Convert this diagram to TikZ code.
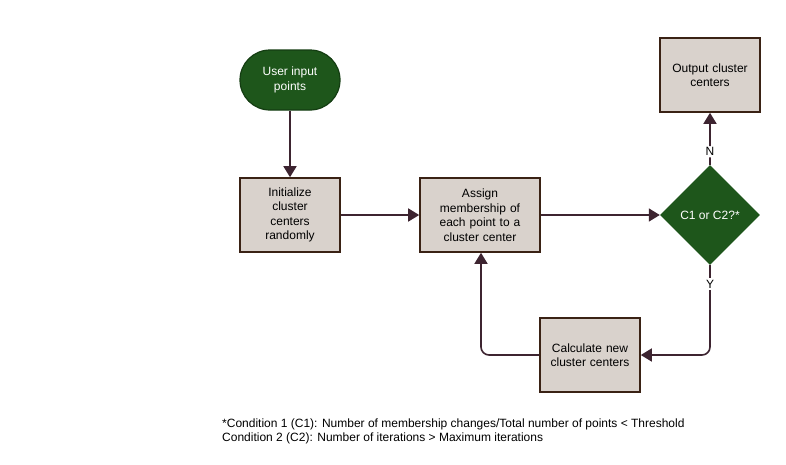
\documentclass[tikz,border=0pt]{standalone}
\usepackage{fontspec}
\setmainfont{Liberation Sans}
\usetikzlibrary{shapes.geometric,arrows.meta,positioning}
\definecolor{boxfill}{HTML}{D9D2CC}
\definecolor{boxline}{HTML}{3A2214}
\definecolor{gfill}{HTML}{1E561B}
\definecolor{gline}{HTML}{143D12}
\definecolor{arrowc}{HTML}{3D2430}
\tikzset{
  procbox/.style={draw=boxline,fill=boxfill,line width=1.6pt,minimum width=100pt,minimum height=74pt,align=center,font=\fontsize{12}{14.5}\selectfont,text width=96pt,inner sep=2pt},
  term/.style={draw=gline,fill=gfill,line width=1.2pt,rounded corners=30pt,minimum width=100pt,minimum height=60pt,align=center,text=white,font=\fontsize{12}{14.5}\selectfont},
  decide/.style={draw=none,fill=gfill,diamond,minimum width=100pt,minimum height=100pt,inner sep=0pt,aspect=1,text=white,font=\fontsize{12}{14.5}\selectfont},
  conn/.style={draw=arrowc,line width=1.6pt,-{Triangle[length=11pt,width=13pt]},rounded corners=8pt},
  lbl/.style={fill=white,inner sep=1.5pt,font=\fontsize{12}{13}\selectfont,text=black},
  note/.style={anchor=west,font=\fontsize{12}{14}\selectfont,inner sep=0pt}
}
\begin{document}
\begin{tikzpicture}[x=1pt,y=-1pt]
\useasboundingbox (0,0) rectangle (786,464);
\fill[white] (0,0) rectangle (786,464);
\node[term] (start) at (290,80) {User input\\points};
\node[procbox] (init) at (290,215) {Initialize\\cluster\\centers\\randomly};
\node[procbox,minimum width=120pt,text width=114pt] (assign) at (480,215) {Assign\\membership of\\each point to a\\cluster center};
\node[decide] (dec) at (710,215) {C1 or C2?*};
\node[procbox] (out) at (710,75) {Output cluster\\centers};
\node[procbox] (calc) at (590,355) {Calculate new\\cluster centers};
\draw[conn] (start) -- (init);
\draw[conn] (init) -- (assign);
\draw[conn] (assign) -- (dec);
\draw[conn] (dec) -- node[lbl,pos=0.25] (nl) {N} (out);
\draw[conn] (dec.south) -- (710,355) -- (calc.east);
\node[lbl] (yl) at (710,284) {Y};
\draw[conn] (calc.west) -- (481,355) -- (assign.south -| 481,0);
\node[note] (n1) at (222,424) {*Condition 1 (C1): Number of membership changes/Total number of points < Threshold};
\node[note] (n2) at (222,438) {Condition 2 (C2): Number of iterations > Maximum iterations};
\end{tikzpicture}
\end{document}
